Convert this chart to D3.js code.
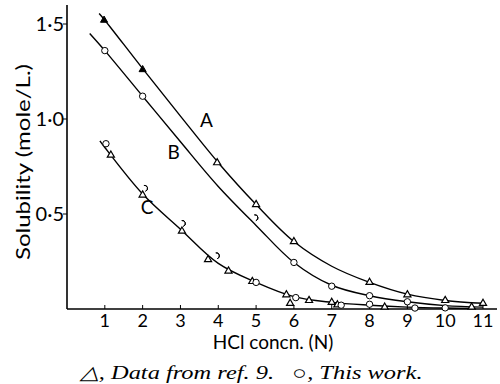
<!DOCTYPE html>
<html>
<head>
<meta charset="utf-8">
<script src="https://cdn.jsdelivr.net/npm/d3@7"></script>
<style>
  body { margin: 0; background: #fff; }
  svg { display: block; }
</style>
</head>
<body>
<svg width="500" height="384"></svg>
<script>
// Curve paths (HCl normality, solubility mole/L)
const curveA = [[0.85,1.555],[1,1.52],[2,1.265],[3,1.015],[4,0.77],[5,0.55],[6,0.355],[7,0.225],[8,0.14],[9,0.078],[10,0.045],[11,0.03]];
const curveB = [[0.6,1.45],[1,1.36],[2,1.12],[3,0.88],[4,0.645],[5,0.44],[6,0.245],[7,0.125],[8,0.07],[9,0.038],[10,0.018],[11,0.01]];
const curveC = [[0.87,0.885],[1,0.85],[2,0.605],[3,0.42],[4,0.24],[5,0.14],[6,0.065],[7,0.035],[8,0.02],[9,0.01],[10,0.005],[10.8,0.003]];

// Markers
const triFilled = [[0.98,1.52],[2.0,1.26]];
const triOpen = [[3.97,0.77],[5.0,0.55],[6.0,0.355],[8.0,0.14],[9.0,0.075],[10.0,0.045],[11.0,0.03],
  [1.16,0.81],[2.0,0.6],[3.04,0.41],[3.73,0.26],[4.27,0.2],[4.9,0.145],[5.8,0.075],[5.9,0.03],
  [6.4,0.045],[7.0,0.035],[7.15,0.022],[8.4,0.01],[10.7,0.01]];
const circles = [[1.0,1.36],[2.0,1.12],[6.0,0.245],[7.0,0.12],[8.0,0.07],[9.0,0.038],[10.0,0.006],
  [1.03,0.87],[5.0,0.14],[6.05,0.06],[7.25,0.02],[8.0,0.025],[9.2,0.005]];
const partial = [[2.05,0.635],[3.05,0.45],[3.95,0.28],[4.97,0.48]];

const xTicks = [1,2,3,4,5,6,7,8,9,10,11];
const yTicks = [0.5,1.0,1.5];
const yTickLabels = ["0·5","1·0","1·5"];
const curveLabels = [["A",3.69,0.96],["B",2.82,0.79],["C",2.12,0.5]];

const svg = d3.select("svg");
const x = d3.scaleLinear().domain([0, 11.37]).range([67, 497]);
const y = d3.scaleLinear().domain([0, 1.6]).range([309, 5]);
const sans = "Lato, 'Open Sans', sans-serif";

// axes
svg.append("line").attr("x1", x(0)).attr("x2", x(0)).attr("y1", y(1.6)).attr("y2", y(0))
  .attr("stroke", "#000").attr("stroke-width", 1.6);
svg.append("line").attr("x1", x(0)).attr("x2", x(11.37)).attr("y1", y(0)).attr("y2", y(0))
  .attr("stroke", "#000").attr("stroke-width", 1.6);

// x ticks (point up into the plot)
svg.selectAll(".xt").data(xTicks).enter().append("line")
  .attr("x1", d => x(d)).attr("x2", d => x(d)).attr("y1", y(0)).attr("y2", y(0) - 4)
  .attr("stroke", "#000").attr("stroke-width", 1);
svg.selectAll(".xl").data(xTicks).enter().append("text")
  .attr("x", d => x(d)).attr("y", 327).attr("text-anchor", "middle")
  .attr("font-family", sans).attr("font-size", 18).text(d => d);

// y ticks
svg.selectAll(".yt").data(yTicks).enter().append("line")
  .attr("x1", x(0) - 4).attr("x2", x(0)).attr("y1", d => y(d)).attr("y2", d => y(d))
  .attr("stroke", "#000").attr("stroke-width", 1);
svg.selectAll(".yl").data(yTicks).enter().append("text")
  .attr("x", 64).attr("y", d => y(d) + 7).attr("text-anchor", "end")
  .attr("font-family", sans).attr("font-size", 20)
  .text((d, i) => yTickLabels[i]);

// axis titles
svg.append("text").attr("transform", "translate(30,162) rotate(-90)")
  .attr("text-anchor", "middle").attr("font-family", sans).attr("font-size", 19)
  .attr("textLength", 196).attr("lengthAdjust", "spacingAndGlyphs")
  .text("Solubility (mole/L.)");
svg.append("text").attr("x", 273).attr("y", 349).attr("text-anchor", "middle")
  .attr("font-family", sans).attr("font-size", 19).text("HCl concn. (N)");
svg.append("text").attr("x", 251).attr("y", 379).attr("text-anchor", "middle")
  .attr("font-family", "'Liberation Serif', serif").attr("font-style", "italic").attr("font-size", 19)
  .attr("textLength", 343).attr("lengthAdjust", "spacingAndGlyphs")
  .attr("xml:space", "preserve")
  .text("△, Data from ref. 9.   ○, This work.");

// curves
const line = d3.line().x(d => x(d[0])).y(d => y(d[1])).curve(d3.curveCatmullRom.alpha(0.5));
[curveA, curveB, curveC].forEach(c => {
  svg.append("path").attr("d", line(c)).attr("fill", "none")
    .attr("stroke", "#000").attr("stroke-width", 1.4);
});

// curve labels
svg.selectAll(".cl").data(curveLabels).enter().append("text")
  .attr("x", d => x(d[1])).attr("y", d => y(d[2])).attr("text-anchor", "middle")
  .attr("font-family", sans).attr("font-size", 19).text(d => d[0]);

// markers
const tri = d3.symbol().type(d3.symbolTriangle).size(22);
svg.selectAll(".tf").data(triFilled).enter().append("path")
  .attr("d", tri).attr("transform", d => `translate(${x(d[0])},${y(d[1])})`)
  .attr("fill", "#000").attr("stroke", "#000").attr("stroke-width", 1);
svg.selectAll(".to").data(triOpen).enter().append("path")
  .attr("d", tri).attr("transform", d => `translate(${x(d[0])},${y(d[1])})`)
  .attr("fill", "#fff").attr("stroke", "#000").attr("stroke-width", 1.2);
svg.selectAll(".ci").data(circles).enter().append("circle")
  .attr("cx", d => x(d[0])).attr("cy", d => y(d[1])).attr("r", 3.2)
  .attr("fill", "#fff").attr("stroke", "#000").attr("stroke-width", 1);
const arc = d3.arc().innerRadius(3).outerRadius(3).startAngle(-0.2).endAngle(Math.PI * 0.9);
svg.selectAll(".pa").data(partial).enter().append("path")
  .attr("d", arc).attr("transform", d => `translate(${x(d[0])},${y(d[1])})`)
  .attr("fill", "none").attr("stroke", "#000").attr("stroke-width", 1);
</script>
</body>
</html>
